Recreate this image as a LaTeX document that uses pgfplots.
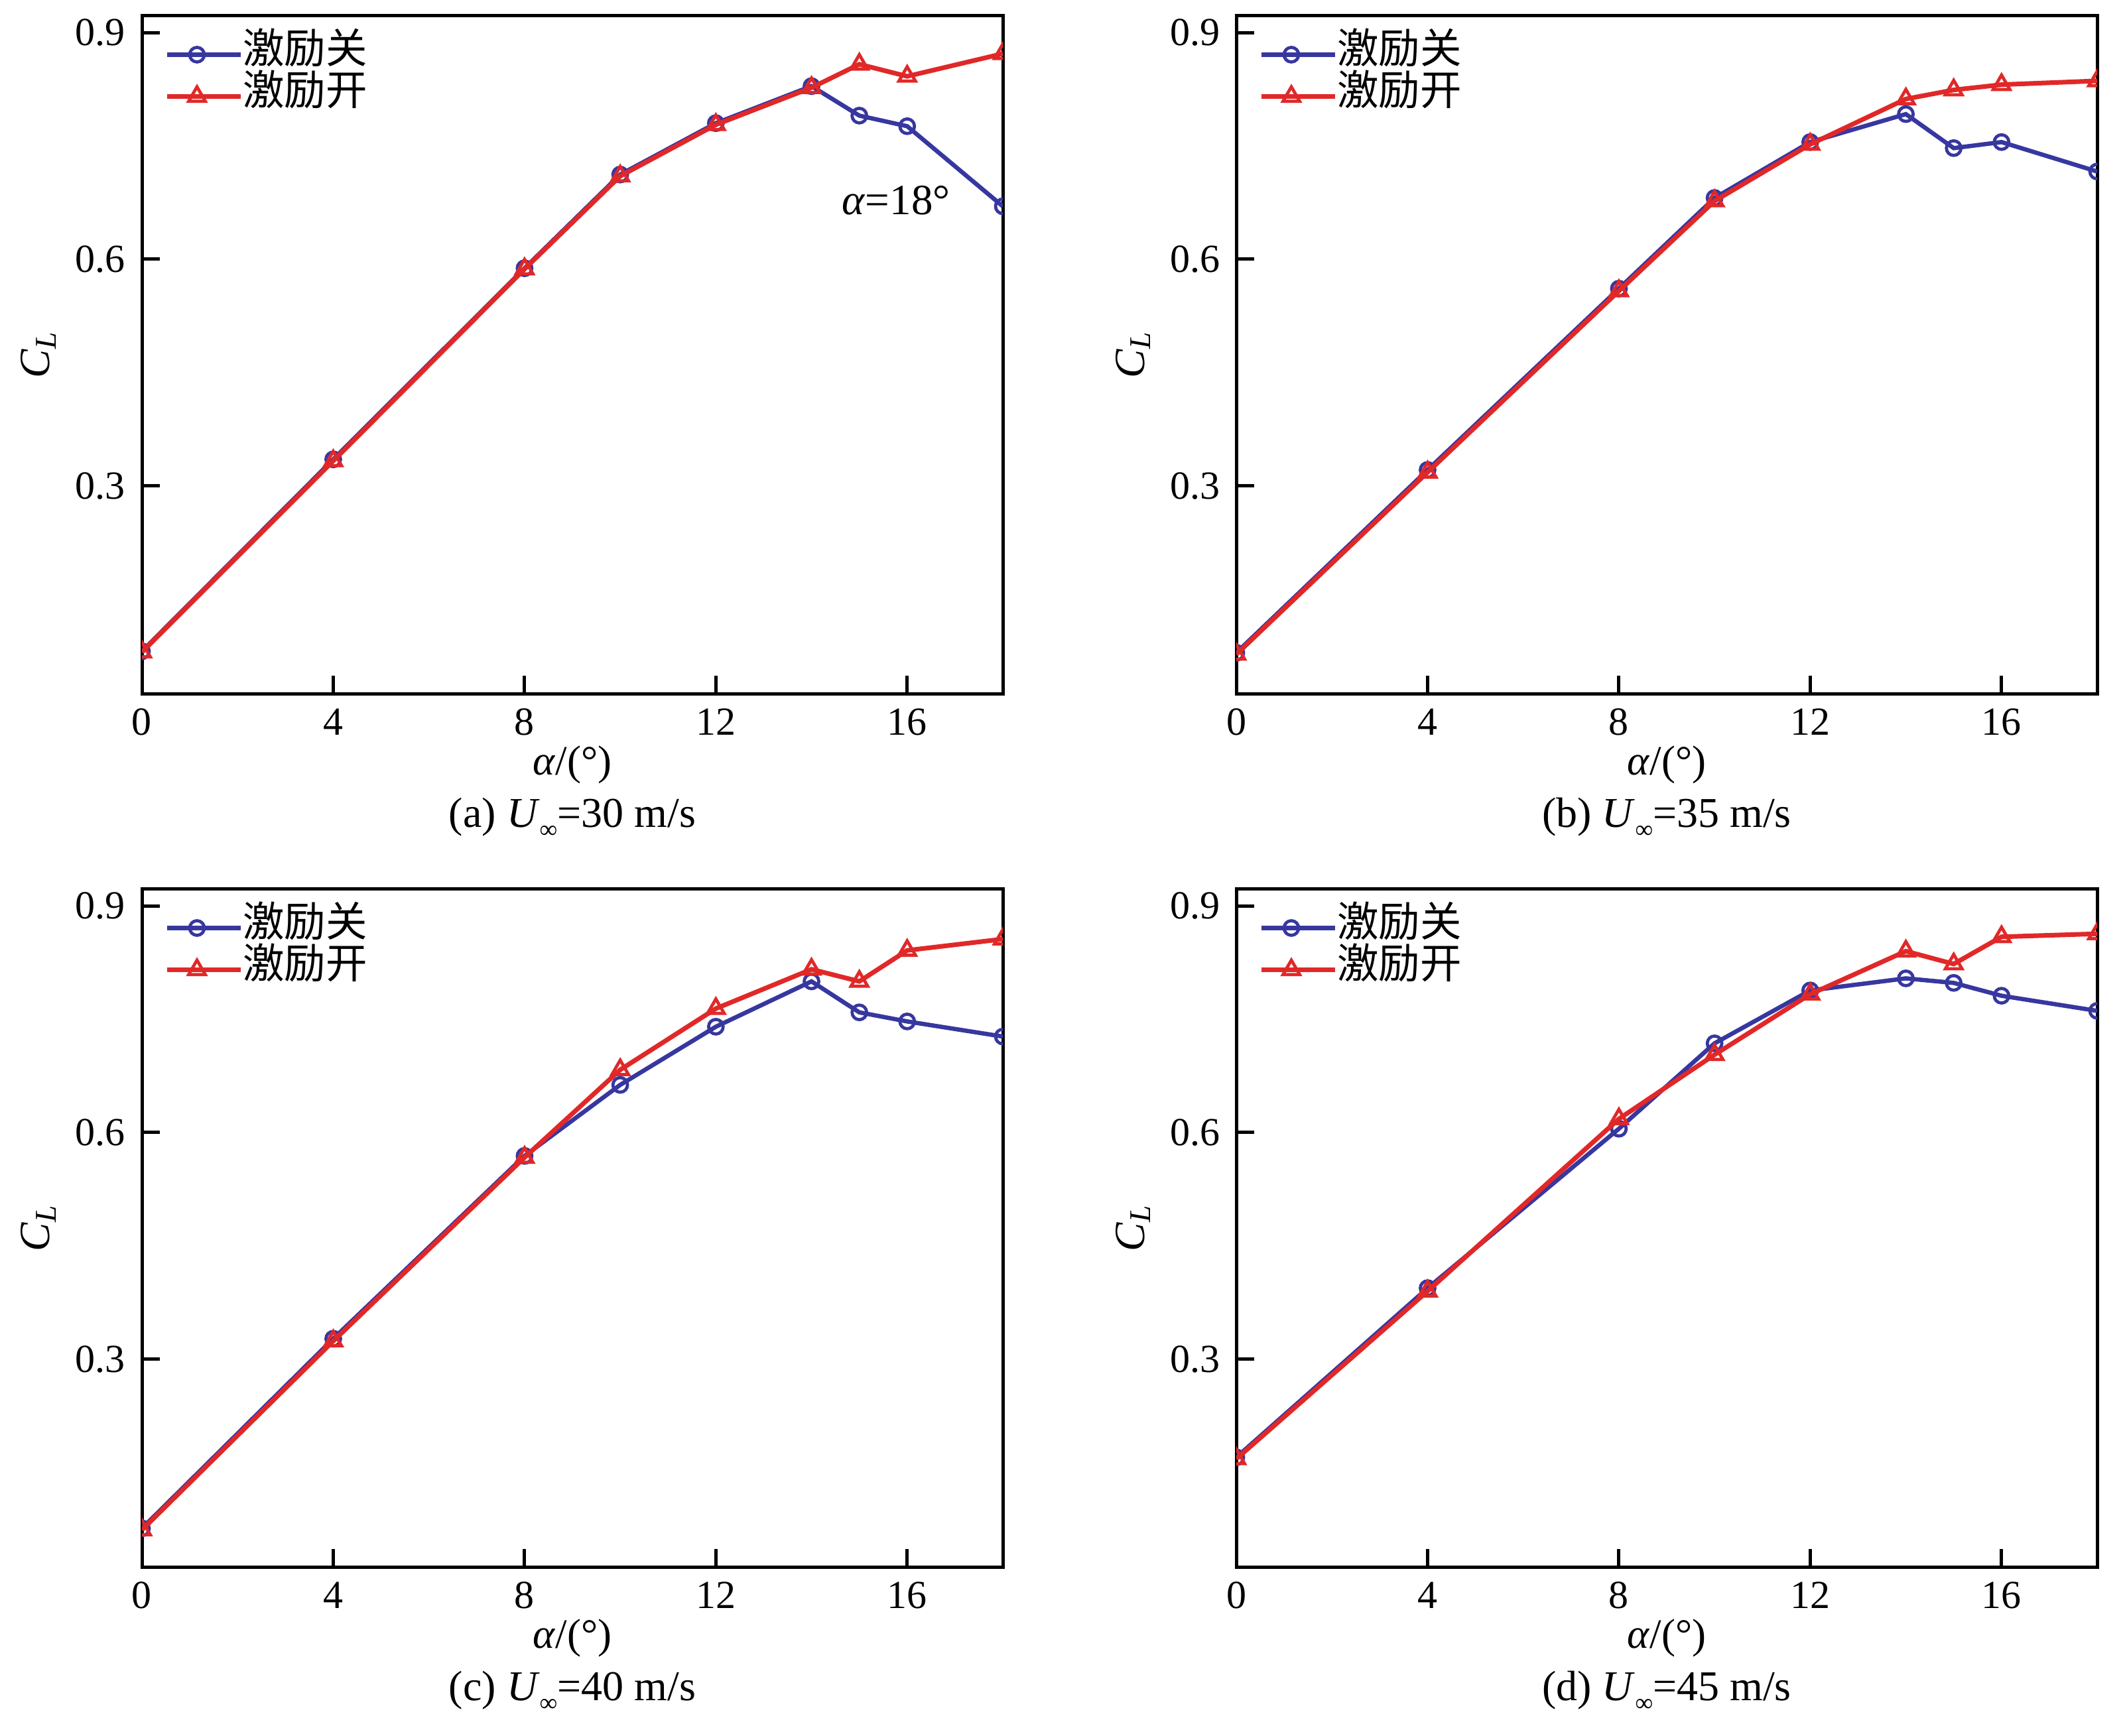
\documentclass[border=0pt]{standalone}
\usepackage{fontspec}
\setmainfont{Liberation Serif}
\newfontfamily\cjk{Noto Sans CJK SC}
\usepackage{pgfplots}
\usepackage{pgfplotstable}
\pgfplotsset{compat=1.18}

\definecolor{cblue}{RGB}{55,55,160}
\definecolor{cred}{RGB}{225,40,40}

\newcommand{\Uinf}{\textit{U}\raisebox{-0.55ex}{\fontsize{7.5}{8}\selectfont ∞}}

\pgfplotstableread{
x y
0 0.081
4 0.335
8 0.588
10 0.712
12 0.780
14 0.829
15 0.790
16 0.776
18 0.670
}\aoff
\pgfplotstableread{
x y
0 0.080
4 0.333
8 0.587
10 0.710
12 0.778
14 0.827
15 0.858
16 0.842
18 0.872
}\aon
\pgfplotstableread{
x y
0 0.079
4 0.321
8 0.561
10 0.681
12 0.755
14 0.792
15 0.747
16 0.755
18 0.716
}\boff
\pgfplotstableread{
x y
0 0.077
4 0.318
8 0.558
10 0.677
12 0.752
14 0.812
15 0.824
16 0.831
18 0.836
}\bon
\pgfplotstableread{
x y
0 0.076
4 0.327
8 0.569
10 0.663
12 0.740
14 0.800
15 0.759
16 0.747
18 0.727
}\coff
\pgfplotstableread{
x y
0 0.074
4 0.324
8 0.567
10 0.683
12 0.764
14 0.816
15 0.800
16 0.841
18 0.856
}\con
\pgfplotstableread{
x y
0 0.170
4 0.394
8 0.605
10 0.718
12 0.788
14 0.804
15 0.798
16 0.781
18 0.761
}\doff
\pgfplotstableread{
x y
0 0.168
4 0.390
8 0.618
10 0.703
12 0.783
14 0.840
15 0.823
16 0.859
18 0.863
}\don

\pgfplotsset{
  panel/.style={
    scale only axis,
    width=259.6pt,
    height=204.4pt,
    xmin=0, xmax=18, ymin=0.025, ymax=0.922,
    xtick={0,4,8,12,16},
    ytick={0.3,0.6,0.9},
    tick pos=left,
    tick align=inside,
    major tick length=5.4pt,
    axis line style={line width=1pt},
    every tick/.style={line width=1pt, black},
    clip marker paths=true,
    /pgf/number format/assume math mode=true,
    tick label style={font=\fontsize{12}{13}\selectfont},
    xticklabel style={anchor=base, yshift=-12.4pt},
    yticklabel style={anchor=east, inner sep=0pt, xshift=-4.8pt},
    xlabel={\textit{α}/(°)},
    ylabel={\textit{C}\textsubscript{\textit{L}}},
    every axis x label/.style={at={(axis description cs:0.5,-0.1194)}, anchor=base, font=\fontsize{12.6}{14}\selectfont},
    every axis y label/.style={at={(axis description cs:-0.1071,0.5)}, rotate=90, anchor=base, font=\fontsize{13}{15}\selectfont},
    every axis title/.style={at={(axis description cs:0.5,-0.1967)}, anchor=base, font=\fontsize{12.8}{15}\selectfont},
    legend style={at={(axis description cs:0,1)}, anchor=north west, xshift=6.8pt, yshift=-5.4pt,
      draw=none, fill=none, inner sep=0pt, outer sep=0pt, row sep=0pt,
      font=\cjk\fontsize{12.5}{14}\selectfont,
      nodes={inner sep=0pt, text height=8.9pt, text depth=3.7pt},
      column sep=0pt},
    legend cell align=left,
    legend image code/.code={
      \draw[mark repeat=2, mark phase=2, #1] plot coordinates {(0pt,0pt) (9.1pt,0pt) (18.2pt,0pt)};
      \path (18.2pt,0pt) -- (22.2pt,0pt);
    },
  },
  off/.style={color=cblue, line width=1.3pt, mark=o, mark size=2.2pt, mark options={line width=0.95pt, solid}},
  on/.style={color=cred, line width=1.4pt, mark=triangle, mark size=2.9pt, mark options={line width=0.95pt, solid}},
}

\begin{document}
\begin{tikzpicture}
\useasboundingbox (0,0) rectangle (641.4pt,-523.6pt);

\begin{axis}[panel, at={(42.8pt,-209.2pt)}, anchor=south west,
  title={(a) \Uinf=30 m/s}]
  \addplot[off] table {\aoff}; \addlegendentry{激励关}
  \addplot[on] table {\aon}; \addlegendentry{激励开}
  \node[font=\fontsize{13}{14}\selectfont] at (axis cs:15.77,0.678) {\textit{α}=18°};
\end{axis}

\begin{axis}[panel, at={(372.8pt,-209.2pt)}, anchor=south west,
  title={(b) \Uinf=35 m/s}]
  \addplot[off] table {\boff}; \addlegendentry{激励关}
  \addplot[on] table {\bon}; \addlegendentry{激励开}
\end{axis}

\begin{axis}[panel, at={(42.8pt,-472.6pt)}, anchor=south west,
  title={(c) \Uinf=40 m/s}]
  \addplot[off] table {\coff}; \addlegendentry{激励关}
  \addplot[on] table {\con}; \addlegendentry{激励开}
\end{axis}

\begin{axis}[panel, at={(372.8pt,-472.6pt)}, anchor=south west,
  title={(d) \Uinf=45 m/s}]
  \addplot[off] table {\doff}; \addlegendentry{激励关}
  \addplot[on] table {\don}; \addlegendentry{激励开}
\end{axis}
\end{tikzpicture}
\end{document}
